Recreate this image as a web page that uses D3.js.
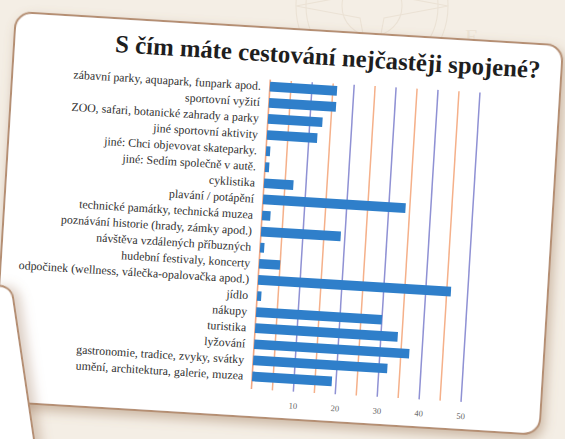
<!DOCTYPE html>
<html><head><meta charset="utf-8">
<script src="https://cdn.jsdelivr.net/npm/d3@7"></script>
<style>
html,body{margin:0;padding:0;background:#f4eee5;}
svg{display:block}
</style></head>
<body>
<svg id="chart" width="565" height="439"></svg>
<script>
const title = "S čím máte cestování nejčastěji spojené?";
const categories = [
  "zábavní parky, aquapark, funpark apod.",
  "sportovní vyžití",
  "ZOO, safari, botanické zahrady a parky",
  "jiné sportovní aktivity",
  "jiné: Chci objevovat skateparky.",
  "jiné: Sedím společně v autě.",
  "cyklistika",
  "plavání / potápění",
  "technické památky, technická muzea",
  "poznávání historie (hrady, zámky apod.)",
  "návštěva vzdálených příbuzných",
  "hudební festivaly, koncerty",
  "odpočinek (wellness, válečka-opalovačka apod.)",
  "jídlo",
  "nákupy",
  "turistika",
  "lyžování",
  "gastronomie, tradice, zvyky, svátky",
  "umění, architektura, galerie, muzea"
];
const values = [16, 16, 13, 12, 1, 1, 7, 34, 2, 19, 1, 5, 46, 1, 30, 34, 37, 32, 19];
const tickValues = [10, 20, 30, 40, 50];
const tickLabels = ["10", "20", "30", "40", "50"];
const gridValues = [5, 10, 15, 20, 25, 30, 35, 40, 45, 50];

const SERIF = "'Liberation Serif', 'Times New Roman', serif";
const svg = d3.select("#chart");
const defs = svg.append("defs");
const sh = defs.append("filter").attr("id","shadow").attr("x","-10%").attr("y","-10%").attr("width","130%").attr("height","130%");
sh.append("feDropShadow").attr("dx",3).attr("dy",5).attr("stdDeviation",6)
  .attr("flood-color","#9a7352").attr("flood-opacity",0.45);
const sh2 = defs.append("filter").attr("id","shadow2").attr("x","-20%").attr("y","-20%").attr("width","150%").attr("height","150%");
sh2.append("feDropShadow").attr("dx",6).attr("dy",2).attr("stdDeviation",6)
  .attr("flood-color","#9a7352").attr("flood-opacity",0.35);

// background watermark (compass)
const bg = svg.append("g").attr("fill","none").attr("stroke","#ebe2d5").attr("stroke-width",1.1);
bg.append("circle").attr("cx",372).attr("cy",6).attr("r",76);
bg.append("circle").attr("cx",372).attr("cy",6).attr("r",66);
bg.append("circle").attr("cx",372).attr("cy",6).attr("r",30);
bg.append("path").attr("d","M372,-70 L384,-6 L448,6 L384,18 L372,82 L360,18 L296,6 L360,-6 Z");
svg.append("text").attr("x",465).attr("y",44).style("font-family",SERIF)
  .attr("font-size",22).attr("fill","#ece3d6").text("E");

// main card
const card = svg.append("g").attr("transform","translate(16,12) rotate(3.5)");
card.append("rect").attr("x",0).attr("y",0).attr("width",548).attr("height",390)
  .attr("rx",16).attr("fill","#ffffff").attr("stroke","#b58f73").attr("stroke-width",2)
  .attr("filter","url(#shadow)");

const t = card.append("text").attr("x",314).attr("y",34).attr("text-anchor","middle")
  .style("font-family",SERIF).style("font-weight","bold").style("font-size","22px")
  .attr("fill","#1e1e1e").text(title);
const tl = t.node().getComputedTextLength();
t.style("font-size", (22 * 426 / tl) + "px");

const x = d3.scaleLinear().domain([0, 50]).range([258, 468]);
const y = d3.scaleBand().domain(categories).range([51, 357.4]).paddingInner(0.4).paddingOuter(0.2);

const gTop = 52, gBot = 362;
card.append("g").selectAll("line").data(gridValues).join("line")
  .attr("x1", d => x(d)).attr("x2", d => x(d)).attr("y1", gTop).attr("y2", gBot)
  .attr("stroke", d => d % 10 === 0 ? "#8f91d4" : "#f5b08a")
  .attr("stroke-width", 1.5);
card.append("line").attr("x1", x(0)).attr("x2", x(0)).attr("y1", gTop).attr("y2", gBot)
  .attr("stroke","#f0a682").attr("stroke-width",1.6);

card.append("g").selectAll("rect").data(values).join("rect")
  .attr("x", x(0)).attr("y", (d,i) => y(categories[i]))
  .attr("width", d => x(d) - x(0)).attr("height", y.bandwidth())
  .attr("fill", "#2f7fca");

const yAxis = card.append("g").attr("transform", `translate(${x(0)},0)`)
  .call(d3.axisLeft(y).tickSize(0).tickPadding(9));
yAxis.select(".domain").remove();
const labels = yAxis.selectAll("text").style("font-family",SERIF).style("font-size","11px").attr("fill","#303030");
const firstLen = labels.nodes()[0].getComputedTextLength();
labels.style("font-size", (11 * 188 / firstLen) + "px");

const xAxis = card.append("g").attr("transform", `translate(0,${gBot + 8})`)
  .call(d3.axisBottom(x).tickValues(tickValues).tickSize(0).tickPadding(3)
    .tickFormat((d,i) => tickLabels[i]));
xAxis.select(".domain").remove();
xAxis.selectAll("text").style("font-family",SERIF).style("font-size","8.5px").attr("fill","#666");

// second card at lower left
const card2 = svg.append("g").attr("transform","translate(11,284) rotate(-8.4)");
card2.append("rect").attr("x",-320).attr("y",0).attr("width",320).attr("height",300)
  .attr("rx",14).attr("fill","#ffffff").attr("stroke","#b58f73").attr("stroke-width",2)
  .attr("filter","url(#shadow2)");
</script>
</body></html>
